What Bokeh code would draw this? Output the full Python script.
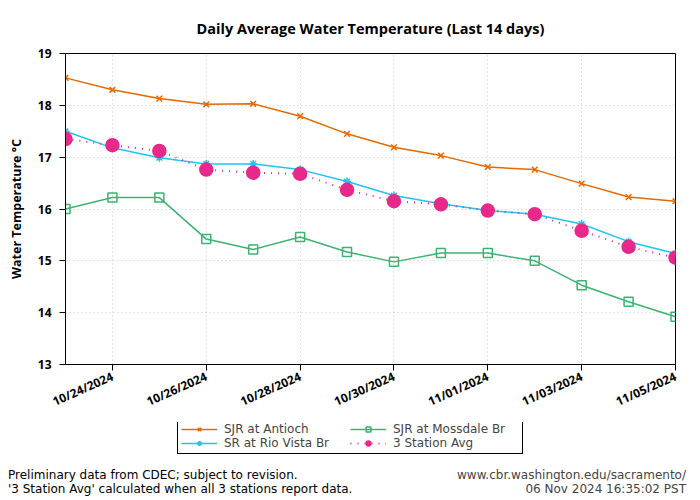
from datetime import datetime
from bokeh.plotting import figure
from bokeh.layouts import column
from bokeh.models import (ColumnDataSource, Legend, LegendItem, FixedTicker, Div,
                          DatetimeTickFormatter, Range1d)
from bokeh.embed import file_html
from bokeh.resources import INLINE

dates = ["2024-10-23", "2024-10-24", "2024-10-25", "2024-10-26", "2024-10-27",
         "2024-10-28", "2024-10-29", "2024-10-30", "2024-10-31", "2024-11-01",
         "2024-11-02", "2024-11-03", "2024-11-04", "2024-11-05"]
antioch = [18.53, 18.30, 18.13, 18.02, 18.03, 17.79, 17.45, 17.19, 17.03, 16.81,
           16.76, 16.49, 16.23, 16.15]
rio_vista = [17.50, 17.18, 16.99, 16.87, 16.87, 16.76, 16.53, 16.26, 16.10, 15.97,
             15.90, 15.71, 15.37, 15.14]
mossdale = [16.00, 16.22, 16.22, 15.42, 15.22, 15.46, 15.17, 14.98, 15.15, 15.15,
            15.00, 14.53, 14.21, 13.92]
avg3 = [17.35, 17.23, 17.12, 16.76, 16.70, 16.68, 16.37, 16.15, 16.09, 15.97,
        15.90, 15.58, 15.27, 15.06]
tick_dates = ["2024-10-24", "2024-10-26", "2024-10-28", "2024-10-30",
              "2024-11-01", "2024-11-03", "2024-11-05"]
y_ticks = [13, 14, 15, 16, 17, 18, 19]
series_names = ["SJR at Antioch", "SR at Rio Vista Br", "SJR at Mossdale Br",
                "3 Station Avg"]
footer_left = ["Preliminary data from CDEC; subject to revision.",
               "'3 Station Avg' calculated when all 3 stations report data."]
footer_right = ["www.cbr.washington.edu/sacramento/", "06 Nov 2024 16:35:02 PST"]


def ms(s):
    return datetime.strptime(s, "%Y-%m-%d").timestamp() * 1000.0


x = [datetime.strptime(d, "%Y-%m-%d") for d in dates]
src = ColumnDataSource(dict(x=x, a=antioch, r=rio_vista, m=mossdale, v=avg3))

BOLD = "Open Sans"
LIGHT = "DejaVu Sans"
W = 700
HM = 422                # main figure height
HL = 34                 # legend strip height
HF = 500 - HM - HL      # footer text height
FL, FR, FT = 65, 25, 51
FB = HM - 364

p = figure(width=W, height=HM, x_axis_type="datetime",
           output_backend="svg", toolbar_location=None,
           x_range=Range1d(ms(dates[0]), ms(dates[-1])),
           y_range=Range1d(13, 19),
           min_border_left=FL, min_border_right=FR, min_border_top=FT,
           min_border_bottom=FB)
p.title.text = "Daily Average Water Temperature (Last 14 days)"
p.title.align = "center"
p.title.text_font = BOLD
p.title.text_font_size = "14.5px"
p.title.text_font_style = "bold"
p.title.text_color = "black"
p.title.standoff = 32

p.outline_line_color = "black"
p.outline_line_width = 1
p.outline_line_alpha = 1

p.xaxis.ticker = FixedTicker(ticks=[ms(t) for t in tick_dates])
p.xaxis.formatter = DatetimeTickFormatter(days="%m/%d/%Y", months="%m/%d/%Y")
p.xaxis.major_label_orientation = 0.42
p.yaxis.ticker = FixedTicker(ticks=y_ticks)
for ax in (p.xaxis, p.yaxis):
    ax.major_label_text_font = BOLD
    ax.major_label_text_font_style = "bold"
    ax.major_label_text_font_size = "12px"
    ax.major_label_text_color = "black"
    ax.axis_line_color = "black"
    ax.major_tick_line_color = "black"
    ax.major_tick_out = 6
    ax.major_tick_in = 0
    ax.minor_tick_line_color = None
p.yaxis.major_label_standoff = 8
p.yaxis.axis_label = "Water Temperature °C"
p.yaxis.axis_label_text_font = BOLD
p.yaxis.axis_label_text_font_style = "bold"
p.yaxis.axis_label_text_font_size = "12.5px"
p.yaxis.axis_label_text_color = "black"
p.yaxis.axis_label_standoff = 10

for g in (p.xgrid, p.ygrid):
    g.grid_line_color = "#c8c8c8"
    g.grid_line_dash = "1 3"
    g.grid_line_width = 1

c_a = "#e66800"
c_r = "#1ec4f4"
c_m = "#3cb371"
c_v = "#e7298a"

styles = [
    dict(col="a", color=c_a, marker="x", size=8, fill=c_a, dash="solid", lw=1.5),
    dict(col="r", color=c_r, marker="asterisk", size=8, fill=c_r, dash="solid", lw=1.5),
    dict(col="m", color=c_m, marker="square", size=9, fill=None, dash="solid", lw=1.5),
    dict(col="v", color=c_v, marker="circle", size=13, fill=c_v, dash="1 6", lw=2),
]

for s in styles:
    p.line("x", s["col"], source=src, color=s["color"], line_width=s["lw"],
           line_dash=s["dash"])
    p.scatter("x", s["col"], source=src, marker=s["marker"], size=s["size"],
              line_color=s["color"], fill_color=s["fill"], line_width=1.5)

# legend strip: same series, drawn out of view, used only for the key
lf = figure(width=W, height=HL, output_backend="svg", toolbar_location=None,
            x_range=Range1d(0, 1), y_range=Range1d(100, 101),
            x_axis_location=None, y_axis_location=None,
            min_border_left=FL, min_border_right=FR, min_border_top=0,
            min_border_bottom=0)
lf.outline_line_color = None
lf.xgrid.grid_line_color = None
lf.ygrid.grid_line_color = None

items = []
for name, s in zip(series_names, styles):
    lg = lf.line("x", s["col"], source=src, color=s["color"], line_width=s["lw"],
                 line_dash=s["dash"])
    sg = lf.scatter("x", s["col"], source=src, marker=s["marker"],
                    size=s["size"], line_color=s["color"],
                    fill_color=s["fill"], line_width=1.5)
    items.append(LegendItem(label=name, renderers=[lg, sg]))

# legend box on canvas: x 177..522, y 424..454
legend = Legend(items=items, location=(177 - FL, HL - (454 - HM)), ncols=2)
legend.label_text_font = LIGHT
legend.label_text_font_size = "12px"
legend.label_height = 12
legend.glyph_height = 12
legend.glyph_width = 36
legend.label_width = 126
legend.label_standoff = 7
legend.spacing = 0
legend.padding = 3
legend.margin = 0
legend.border_line_color = "black"
legend.border_line_alpha = 1
legend.border_line_width = 1
legend.background_fill_alpha = 1
lf.add_layout(legend, "center")

left_html = "<br>".join(footer_left)
right_html = "<br>".join(footer_right)
pad_top = 468 - (HM + HL)
footer = Div(
    text=(
        "<div style=\"display:flex;justify-content:space-between;"
        "width:700px;box-sizing:border-box;"
        "font-family:'DejaVu Sans';font-size:12px;line-height:14px;"
        f"padding:{pad_top}px 14px 0 8px;\">"
        f"<div style='color:#000'>{left_html}</div>"
        f"<div style='text-align:right;color:#444'>{right_html}</div></div>"
    ),
    width=W, height=HF, margin=0)

layout = column(p, lf, footer, spacing=0)
open("out.html", "w").write(file_html(layout, INLINE))
